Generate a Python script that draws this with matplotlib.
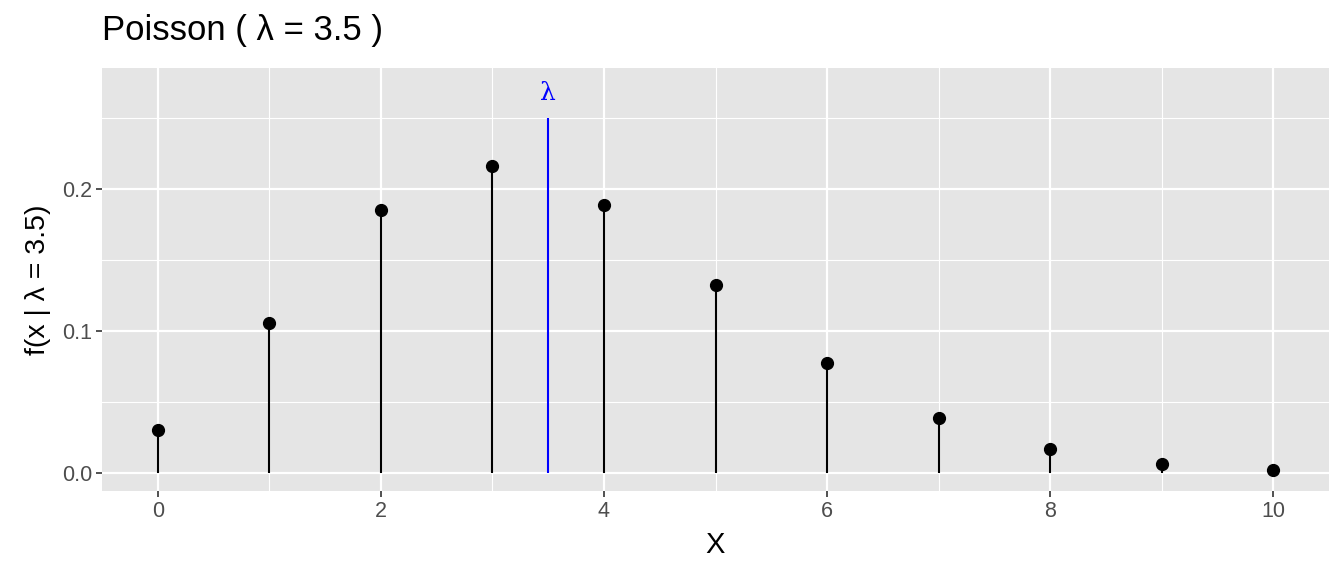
import numpy as np
import matplotlib
matplotlib.use("Agg")
import matplotlib.pyplot as plt
from matplotlib.ticker import MultipleLocator

plt.rcParams['font.family'] = ['Liberation Sans', 'DejaVu Sans']

# poisson pmf, lambda = 3.5
lam = 3.5
x_vals = [0, 1, 2, 3, 4, 5, 6, 7, 8, 9, 10]
pmf = [0.0302, 0.1057, 0.1850, 0.2158, 0.1888, 0.1322, 0.0771, 0.0385, 0.0169, 0.0066, 0.0023]
lam_line_top = 0.25
x_ticks = [0, 2, 4, 6, 8, 10]
y_ticks = [0.0, 0.1, 0.2]

fig = plt.figure(figsize=(13.44, 5.76), dpi=100)
ax = fig.add_axes([102/1344, 1 - 491/576, (1329-102)/1344, (491-68)/576])

ax.set_facecolor('#E5E5E5')
for s in ax.spines.values():
    s.set_visible(False)

ax.set_xlim(-0.5, 10.5)
ax.set_ylim(-0.0127, 0.285)
ax.set_xticks(x_ticks)
ax.set_yticks(y_ticks)
ax.set_yticklabels([f"{v:.1f}" for v in y_ticks])
ax.xaxis.set_minor_locator(MultipleLocator(1))
ax.yaxis.set_minor_locator(MultipleLocator(0.05))
ax.grid(which='major', color='white', linewidth=1.6)
ax.grid(which='minor', color='white', linewidth=0.8)
ax.set_axisbelow(True)
ax.tick_params(which='major', length=4, width=1.2, color='#333333',
               labelsize=15.5, labelcolor='#4D4D4D', pad=3)
ax.tick_params(which='minor', length=0)

ax.vlines(x_vals, 0, pmf, color='black', linewidth=1.5)
ax.plot(x_vals, pmf, 'o', color='black', markersize=8.5)

ax.vlines(lam, 0, lam_line_top, color='blue', linewidth=1.5)
ax.text(lam, 0.259, 'λ', color='blue', ha='center', va='bottom',
        fontsize=18, family=['DejaVu Serif'])

ax.set_xlabel('X', fontsize=21, labelpad=7)
ax.set_ylabel('f(x | λ = 3.5)', fontsize=20.5, labelpad=8)
ax.set_title('Poisson ( λ = 3.5 )', fontsize=25, loc='left', pad=20)

fig.savefig('out.png', dpi=100)
